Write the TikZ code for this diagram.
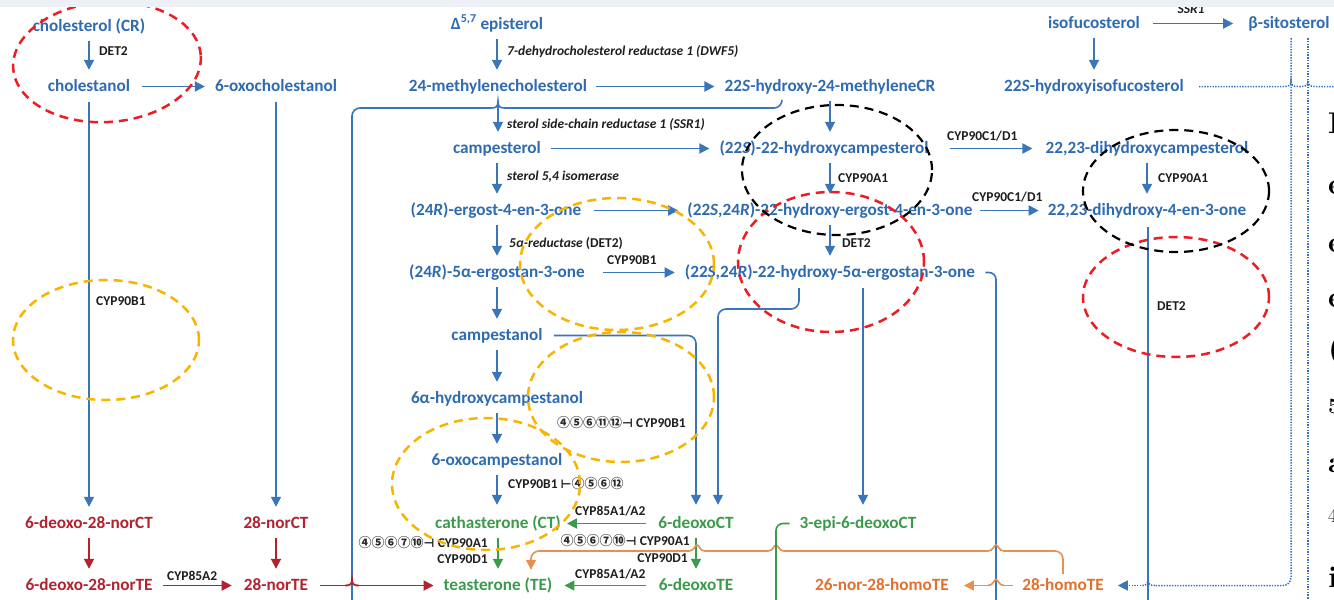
\documentclass[tikz,border=0pt]{standalone}
\usepackage{fontspec}
\setmainfont{Carlito}
\newfontfamily\dvfont{DejaVu Sans}
\newfontfamily\cjkfont{Noto Sans CJK SC}
\newfontfamily\lmfont{Latin Modern Roman}
\usetikzlibrary{arrows.meta,calc}
\definecolor{cblue}{HTML}{2E6BB0}
\definecolor{lblue}{HTML}{3A75BA}
\definecolor{cred}{HTML}{B0232F}
\definecolor{cgreen}{HTML}{3C9A4C}
\definecolor{corange}{HTML}{E2702C}
\definecolor{lorange}{HTML}{E8904F}
\definecolor{labk}{HTML}{1E1E1E}
\definecolor{circk}{HTML}{2A2A2A}
\definecolor{ered}{HTML}{EE1C24}
\definecolor{eorange}{HTML}{F7B500}
\definecolor{gband}{HTML}{EDF0F4}
\newcommand\circs[1]{{\cjkfont\bfseries\fontsize{13}{13}\selectfont\color{circk}#1}}
\newcommand\inhib[1]{{\dvfont\bfseries\fontsize{12}{12}\selectfont #1}}
\begin{document}
\begin{tikzpicture}[x=1pt,y=-1pt,
  cpd/.style={inner sep=0pt,text height=12pt,text depth=3pt,anchor=base,font=\bfseries\fontsize{17.2}{17.2}\selectfont},
  cb/.style={cpd,text=cblue}, cr/.style={cpd,text=cred}, cg/.style={cpd,text=cgreen}, co/.style={cpd,text=corange},
  lab/.style={inner sep=0pt,anchor=base west,text=labk,font=\bfseries\fontsize{13.5}{13.5}\selectfont},
  ilab/.style={lab,font=\bfseries\itshape\fontsize{13.5}{13.5}\selectfont},
  tip/.style={-{Triangle[length=10pt,width=10pt]}},
  bline/.style={draw=lblue,line width=1.8pt},
  thinb/.style={draw=lblue,line width=1.6pt},
  barr/.style={bline,tip},
  rline/.style={draw=cred,line width=1.8pt}, rarr/.style={rline,tip},
  gline/.style={draw=cgreen,line width=1.8pt}, garr/.style={gline,tip},
  oline/.style={draw=lorange,line width=1.6pt}, oarr/.style={oline,-{Triangle[length=10pt,width=10pt]}},
  dline/.style={draw=lblue,line width=1.5pt,dash pattern=on 1.4pt off 1.3pt},
  darr/.style={dline,tip},
  vs/.style={shorten <=7pt,shorten >=9pt},
  ell/.style={line width=2.5pt,dash pattern=on 9pt off 6pt},
  frag/.style={inner sep=0pt,anchor=base west,font=\lmfont\bfseries\fontsize{30}{30}\selectfont}
]
\fill[white] (0,0) rectangle (1334,600);
\useasboundingbox (0,0) rectangle (1334,600);

% ---------- compounds ----------
\node[cb] (chol) at (89,31) {cholesterol (CR)};
\node[cb] (epi) at (497,29) {Δ\textsuperscript{5,7} episterol};
\node[cb] (isofuco) at (1094,28) {isofucosterol};
\node[cb] (bsito) at (1289,28) {β-sitosterol};
\node[cb] (cholan) at (89,91) {cholestanol};
\node[cb] (oxochol) at (276,91) {6-oxocholestanol};
\node[cb] (mch) at (498,91) {24-methylenecholesterol};
\node[cb] (hmcr) at (830,91) {22\textit{S}-hydroxy-24-methyleneCR};
\node[cb] (hiso) at (1094,91) {22\textit{S}-hydroxyisofucosterol};
\node[cb] (camp) at (497,153) {campesterol};
\node[cb] (hcamp) at (824,153) {(22\textit{S})-22-hydroxycampesterol};
\node[cb] (dhcamp) at (1147,153) {22,23-dihydroxycampesterol};
\node[cb] (erg) at (496,215) {(24\textit{R})-ergost-4-en-3-one};
\node[cb] (herg) at (830,215) {(22\textit{S},24\textit{R})-22-hydroxy-ergost-4-en-3-one};
\node[cb] (dhen) at (1147,215) {22,23-dihydroxy-4-en-3-one};
\node[cb] (ergn) at (497,277) {(24\textit{R})-5α-ergostan-3-one};
\node[cb] (hergn) at (830,277) {(22\textit{S},24\textit{R})-22-hydroxy-5α-ergostan-3-one};
\node[cb] (campn) at (497,340) {campestanol};
\node[cb] (hcampn) at (497,403) {6α-hydroxycampestanol};
\node[cb] (oxocampn) at (497,465) {6-oxocampestanol};
\node[cr] (dnorct) at (89,528) {6-deoxo-28-norCT};
\node[cr] (norct) at (276,528) {28-norCT};
\node[cg] (ct) at (498,528) {cathasterone (CT)};
\node[cg] (dct) at (696,528) {6-deoxoCT};
\node[cg] (epidct) at (858,528) {3-epi-6-deoxoCT};
\node[cr] (dnorte) at (89,590) {6-deoxo-28-norTE};
\node[cr] (norte) at (276,590) {28-norTE};
\node[cg] (te) at (498,590) {teasterone (TE)};
\node[cg] (dte) at (696,590) {6-deoxoTE};
\node[co] (nhte) at (882,590) {26-nor-28-homoTE};
\node[co] (hte) at (1063,590) {28-homoTE};

% ---------- labels ----------
\node[lab] (l1) at (99,55) {DET2};
\node[ilab] (l2) at (507,55) {7-dehydrocholesterol reductase 1 (DWF5)};
\node[ilab,anchor=base] (l3) at (1191,13) {SSR1};
\node[ilab] (l4) at (507,128) {sterol side-chain reductase 1 (SSR1)};
\node[lab] (l5) at (947,140) {CYP90C1/D1};
\node[ilab] (l6) at (507,180) {sterol 5,4 isomerase};
\node[lab] (l7) at (838,182) {CYP90A1};
\node[lab] (l8) at (1158,182) {CYP90A1};
\node[lab] (l9) at (972,201) {CYP90C1/D1};
\node[lab] (l10) at (509,247) {\textit{5α-reductase} (DET2)};
\node[lab] (l11) at (842,247) {DET2};
\node[lab] (l12) at (607,264) {CYP90B1};
\node[lab] (l13) at (96,305) {CYP90B1};
\node[lab] (l14) at (1157,310) {DET2};
\node[lab] (l15) at (557,427) {\circs{④⑤⑥⑪⑫}\inhib{⊣} CYP90B1};
\node[lab] (l16) at (508,488) {CYP90B1 \inhib{⊢}\circs{④⑤⑥⑫}};
\node[lab] (l17) at (575,515) {CYP85A1/A2};
\node[lab,anchor=base east] (l18) at (488,547) {\circs{④⑤⑥⑦⑩}\inhib{⊣} CYP90A1};
\node[lab,anchor=base east] (l19) at (488,563) {CYP90D1};
\node[lab,anchor=base east] (l20) at (690,545) {\circs{④⑤⑥⑦⑩}\inhib{⊣} CYP90A1};
\node[lab,anchor=base east] (l21) at (688,562) {CYP90D1};
\node[lab] (l22) at (575,578) {CYP85A1/A2};
\node[lab] (l23) at (167,580) {CYP85A2};

% ---------- vertical arrows ----------
\draw[barr,vs] (chol.south) -- (cholan.north);
\draw[barr,vs] (epi.south) -- (epi.south |- mch.north);
\draw[barr,vs] (isofuco.south) -- (hiso.north);
\draw[barr,vs] (hmcr.south) -- (hmcr.south |- hcamp.north);
\draw[barr,vs] (mch.south) -- (mch.south |- camp.north);
\draw[barr,vs] (camp.south) -- (camp.south |- erg.north);
\draw[barr,vs] (herg.north |- hcamp.south) -- (herg.north);
\draw[barr,vs] (dhcamp.south) -- (dhen.north);
\draw[barr,vs] (ergn.north |- erg.south) -- (ergn.north);
\draw[barr,vs] (herg.south) -- (hergn.north);
\draw[barr,vs] (ergn.south) -- (campn.north);
\draw[barr,vs] (campn.south) -- (hcampn.north);
\draw[barr,vs] (hcampn.south) -- (oxocampn.north);
\draw[barr,shorten <=7pt,shorten >=11pt] (oxocampn.south) -- (oxocampn.south |- ct.north);
\draw[garr,vs] (ct.south) -- (ct.south |- te.north);
\draw[garr,vs] (dct.south) -- (dte.north);
\draw[rarr,vs] (dnorct.south) -- (dnorte.north);
\draw[rarr,vs] (norct.south) -- (norte.north);

% ---------- long vertical lines ----------
\draw[barr,thinb,shorten <=8pt,shorten >=9pt] (cholan.south) -- (dnorct.north);
\draw[barr,thinb,shorten <=8pt,shorten >=9pt] (oxochol.south) -- (norct.north);
\coordinate (k1) at (799,300);
\coordinate (k2) at (718,309);
\coordinate (k3) at (863,0);
\coordinate (k4) at (996,600);
\coordinate (k5) at (1148,600);
\draw[barr,thinb,rounded corners=8pt,shorten <=11pt,shorten >=11pt] (campn.east) -| (dct.north);
\draw[barr,thinb,rounded corners=8pt,shorten <=8pt,shorten >=11pt] (hergn.south -| k1) |- (k2) -- (k2 |- dct.north);
\draw[barr,thinb,shorten <=8pt,shorten >=11pt] (hergn.south -| k3) -- (epidct.north -| k3);
\draw[thinb,rounded corners=7pt,shorten <=10pt] (hergn.east) -| (k4);
\draw[thinb,shorten <=9pt] (dhen.south -| k5) -- (k5);

% bracket from 22S-hydroxy-24-methyleneCR
\coordinate (k6) at (782,108);
\draw[thinb,rounded corners=8pt,shorten <=6pt] (hmcr.south -| k6) -- (k6) -- (505,108);
\draw[thinb] (505,108) .. controls (500,108) and (498,107) .. (498,101) .. controls (498,107) and (496,108) .. (491,108);
\draw[thinb,rounded corners=8pt] (491,108) -- (352,108) -- (352,600);

% ---------- horizontal arrows ----------
\draw[barr,shorten <=12pt,shorten >=10pt] (cholan.east) -- (oxochol.west);
\draw[barr,shorten <=9pt,shorten >=10pt] (mch.east) -- (hmcr.west);
\draw[barr,shorten <=10pt,shorten >=10pt] (camp.east) -- (hcamp.west);
\draw[barr,shorten <=13pt,shorten >=15pt] (isofuco.east) -- (bsito.west);
\draw[barr,shorten <=21pt,shorten >=13pt] (hcamp.east) -- (dhcamp.west);
\draw[barr,shorten <=12pt,shorten >=9pt] (erg.east) -- (herg.west);
\draw[barr,shorten <=7pt,shorten >=9pt] (herg.east) -- (dhen.west);
\draw[barr,shorten <=18pt,shorten >=10pt] (ergn.east) -- (hergn.west);
\draw[garr,shorten <=12pt,shorten >=6pt] (dct.west) -- (ct.east);
\draw[garr,shorten <=13pt,shorten >=12pt] (dte.west) -- (te.east);
\draw[rarr,shorten <=10pt,shorten >=12pt] (dnorte.east) -- (norte.west);
% 28-norTE -> teasterone with hop
\draw[rline,shorten <=12pt] (norte.east) -- (345,585.5);
\draw[rline] (345,585.5) .. controls (350,585.5) and (352,584.5) .. (352,579.5) .. controls (352,584.5) and (354,585.5) .. (359,585.5);
\draw[rarr,shorten >=10pt] (359,585.5) -- (te.west);

% ---------- orange ----------
\draw[oline,rounded corners=8pt,shorten <=4pt] (hte.north) -- (1063,551) -- (1004,551);
\draw[oline] (1004,551) .. controls (999,551) and (998,545) .. (996,545) .. controls (994,545) and (993,551) .. (988,551) -- (784,551)
  .. controls (779,551) and (778,545) .. (776,545) .. controls (774,545) and (773,551) .. (768,551) -- (705,551)
  .. controls (700,551) and (699,545) .. (697,545) .. controls (695,545) and (694,551) .. (689,551);
\draw[oarr,rounded corners=8pt,shorten >=8pt] (689,551) -| (te.north -| 531,0);
\draw[oline,shorten <=9pt] (hte.west) -- (1004,585.5);
\draw[oline] (1004,585.5) .. controls (999,585.5) and (998,579.5) .. (996,579.5) .. controls (994,579.5) and (993,585.5) .. (988,585.5);
\draw[oarr,shorten >=15pt] (988,585.5) -- (nhte.east);

% ---------- green line from 3-epi-6-deoxoCT ----------
\draw[gline,line width=1.6pt,rounded corners=7pt,shorten <=10pt] (epidct.west) -| (776,600);

% ---------- dotted lines ----------
\coordinate (k7) at (1291,585.5);
\coordinate (k8) at (1308,600);
\draw[dline,rounded corners=8pt,shorten <=7pt] (bsito.south -| k7) -- (k7) -- (1155,585.5);
\draw[dline] (1155,585.5) .. controls (1150,585.5) and (1148,584.5) .. (1148,579.5) .. controls (1148,584.5) and (1146,585.5) .. (1141,585.5);
\draw[darr,shorten >=14pt] (1141,585.5) -- (hte.east);
\draw[dline,shorten <=7pt] (bsito.south -| k8) -- (k8);
\draw[dline,shorten <=15pt] (hiso.east) -- (1284,86.5)
  .. controls (1289,86.5) and (1291,85.5) .. (1291,80.5) .. controls (1291,85.5) and (1293,86.5) .. (1298,86.5) -- (1301,86.5)
  .. controls (1306,86.5) and (1308,85.5) .. (1308,80.5) .. controls (1308,85.5) and (1310,86.5) .. (1315,86.5) -- (1334,86.5);

% ---------- dashed ellipses ----------
\draw[ell,ered] (107,62) ellipse [x radius=94pt,y radius=60pt,rotate=4];
\draw[ell,ered] (831,262) ellipse [x radius=93pt,y radius=70pt];
\draw[ell,ered] (1176,297) ellipse [x radius=93pt,y radius=60pt];
\draw[ell,black,line width=2.2pt] (837,170) ellipse [x radius=95pt,y radius=65pt];
\draw[ell,black,line width=2.2pt] (1176,191) ellipse [x radius=93pt,y radius=61pt];
\draw[ell,eorange] (106,340) ellipse [x radius=93pt,y radius=60pt];
\draw[ell,eorange] (617,264) ellipse [x radius=97pt,y radius=66pt];
\draw[ell,eorange] (621,397) ellipse [x radius=93pt,y radius=65pt];
\draw[ell,eorange] (486,484) ellipse [x radius=94pt,y radius=66pt];

% ---------- page fragments at right edge ----------
\begin{scope}
\clip (0,0) rectangle (1334,600);
\node[frag] (f1) at (1328,133) {I};
\node[frag] (f2) at (1328,194) {e};
\node[frag] (f3) at (1328,252) {e};
\node[frag] (f4) at (1328,307) {e};
\node[frag] (f5) at (1328,358) {(};
\node[frag,font=\lmfont\bfseries\fontsize{22}{22}\selectfont] (f6) at (1328,413) {5};
\node[frag] (f7) at (1328,472) {a};
\node[frag,font=\lmfont\fontsize{20}{20}\selectfont] (f8) at (1328,522) {4};
\node[frag] (f9) at (1328,587) {i};
\end{scope}

% top band
\fill[gband] (0,0) rectangle (1334,7);
\end{tikzpicture}
\end{document}
